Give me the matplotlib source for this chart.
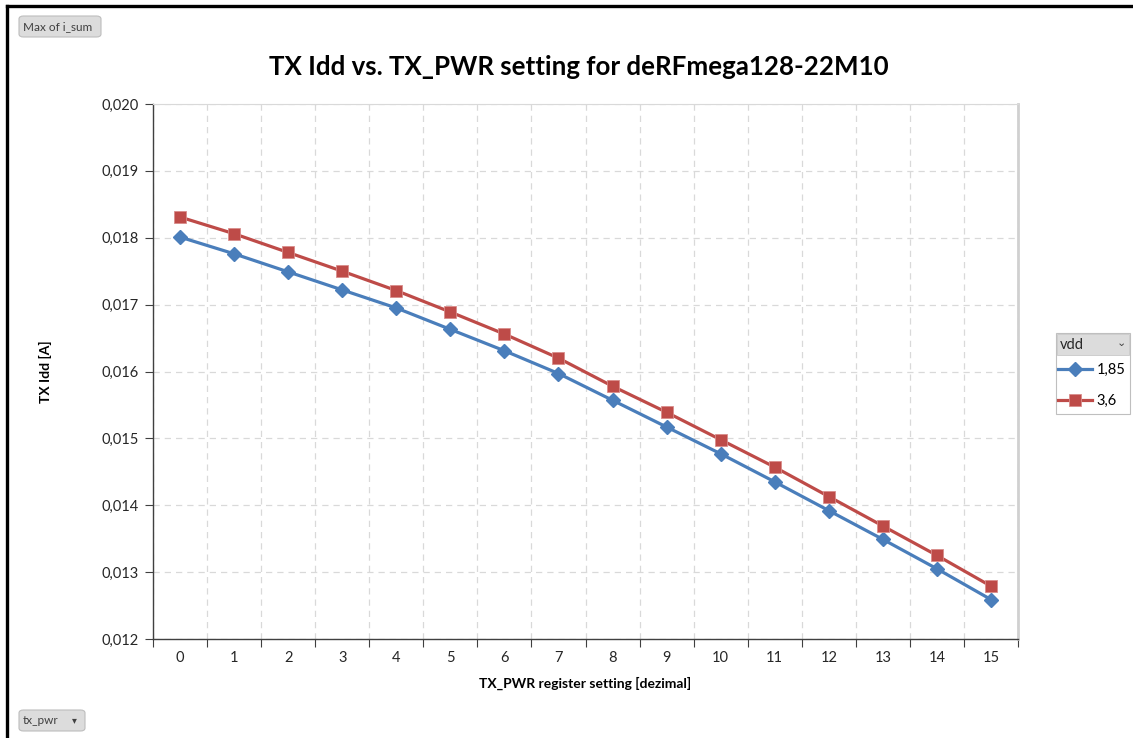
import matplotlib
matplotlib.use("Agg")
import matplotlib.pyplot as plt
from matplotlib.patches import FancyBboxPatch, Rectangle
from matplotlib.lines import Line2D
from matplotlib.ticker import FixedLocator, FuncFormatter, MultipleLocator
import numpy as np

# data
tx_pwr = list(range(16))
vdd_labels = ["1,85", "3,6"]
idd_185 = [0.01801, 0.01776, 0.01749, 0.01722, 0.01695, 0.01663, 0.01631, 0.01597,
           0.01557, 0.01517, 0.01477, 0.01435, 0.01392, 0.01349, 0.01305, 0.01259]
idd_36 = [0.01831, 0.01806, 0.01778, 0.01750, 0.01721, 0.01689, 0.01656, 0.01620,
          0.01578, 0.01539, 0.01498, 0.01457, 0.01413, 0.01369, 0.01325, 0.01279]

BLUE = "#4a7ebb"
RED = "#be4b48"
FONT = ["Lato", "DejaVu Sans"]

plt.rcParams["font.family"] = FONT

W, H = 1133, 738
fig = plt.figure(figsize=(W / 100, H / 100), dpi=100)


def fx(px):
    return px / W


def fy(py):
    return 1 - py / H


ax = fig.add_axes([fx(153), fy(639), fx(1018) - fx(153), fy(104) - fy(639)])

ax.plot(tx_pwr, idd_185, color=BLUE, lw=2.3, marker="D", ms=7.5,
        mfc=BLUE, mec=BLUE, label=vdd_labels[0], zorder=3)
ax.plot(tx_pwr, idd_36, color=RED, lw=2.3, marker="s", ms=8.5,
        mfc=RED, mec="#d98d8b", mew=0.6, label=vdd_labels[1], zorder=3)

ax.set_xlim(-0.5, 15.5)
ax.set_ylim(0.012, 0.020)

# category boundaries as major ticks, labels on centers
ax.xaxis.set_major_locator(FixedLocator(np.arange(-0.5, 16, 1)))
ax.xaxis.set_major_formatter(FuncFormatter(lambda v, p: ""))
ax.xaxis.set_minor_locator(FixedLocator(tx_pwr))
ax.xaxis.set_minor_formatter(FuncFormatter(lambda v, p: f"{int(round(v))}"))
ax.tick_params(axis="x", which="major", length=6, color="#404040", direction="out")
ax.tick_params(axis="x", which="minor", length=0, pad=9, labelsize=10.5, labelcolor="#262626")

ax.yaxis.set_major_locator(MultipleLocator(0.001))
ax.yaxis.set_major_formatter(FuncFormatter(lambda v, p: f"{v:.3f}".replace(".", ",")))
ax.tick_params(axis="y", length=6, color="#404040", labelsize=10.5, labelcolor="#262626", pad=4)

ax.grid(True, which="major", axis="both", color="#d9d9d9", lw=0.9, ls=(0, (5, 4)))
ax.set_axisbelow(True)

for s in ["left", "bottom"]:
    ax.spines[s].set_color("#404040")
    ax.spines[s].set_linewidth(1.0)
ax.spines["top"].set_color("#d9d9d9")
ax.spines["right"].set_color("#d0d0d0")
ax.spines["right"].set_linewidth(2.0)

ax.set_xlabel("TX_PWR register setting [dezimal]", fontsize=10, fontweight="bold", labelpad=8)
ax.set_ylabel("TX Idd [A]", fontsize=10, fontweight="bold", labelpad=36)

fig.text(fx(579), fy(67), "TX Idd vs. TX_PWR setting for deRFmega128-22M10",
         ha="center", va="center", fontsize=18.6, fontweight="bold", color="black")

# sheet borders (top and left)
fig.add_artist(Line2D([fx(7), fx(1132)], [fy(6), fy(6)], color="black", lw=2.4))
fig.add_artist(Line2D([fx(7), fx(7)], [fy(6), 0], color="black", lw=2.4))


def button(x0, y0, x1, y1, text):
    b = FancyBboxPatch((fx(x0), fy(y1)), fx(x1) - fx(x0), fy(y0) - fy(y1),
                       boxstyle="round,pad=0,rounding_size=0.004",
                       fc="#dcdcdc", ec="#bdbdbd", lw=0.8, transform=fig.transFigure)
    fig.add_artist(b)
    fig.text(fx(x0 + 4), fy((y0 + y1) / 2), text, ha="left", va="center",
             fontsize=8.5, color="#404040")


button(19, 16, 101, 37, "Max of i_sum")
button(19, 710, 85, 731, "tx_pwr")
fig.text(fx(74), fy(720), "\u25be", ha="center", va="center", fontsize=7,
         color="#404040", family="DejaVu Sans")

# legend box with header
fig.add_artist(Rectangle((fx(1056), fy(414)), fx(1130) - fx(1056), fy(333) - fy(414),
                         fc="white", ec="#bfbfbf", lw=0.8, transform=fig.transFigure))
fig.add_artist(Rectangle((fx(1057), fy(355)), fx(1129) - fx(1057), fy(334) - fy(355),
                         fc="#dcdcdc", ec="#c8c8c8", lw=0.6, transform=fig.transFigure))
fig.text(fx(1060), fy(345), "vdd", ha="left", va="center", fontsize=10.5, color="#262626")
fig.text(fx(1121), fy(343), "\u2304", ha="center", va="center", fontsize=8,
         color="#404040", family="DejaVu Sans")

handles, labels = ax.get_legend_handles_labels()
fig.legend(handles, labels, loc="upper left", bbox_to_anchor=(fx(1054), fy(359)),
           frameon=False, fontsize=10.5, handlelength=2.3, handletextpad=0.3,
           labelspacing=1.15, borderaxespad=0, borderpad=0.3)

fig.savefig("out.png", dpi=100)
